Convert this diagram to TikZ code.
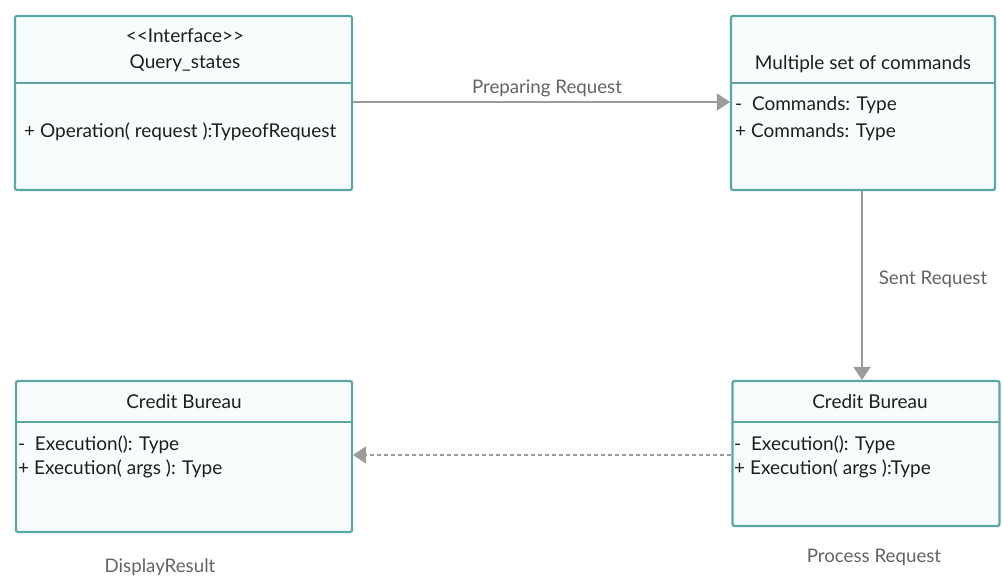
\documentclass[tikz,border=0pt]{standalone}
\usepackage{fontspec}
\setmainfont{Lato}
\usetikzlibrary{arrows.meta}
\definecolor{boxline}{RGB}{92,166,166}
\definecolor{boxfill}{RGB}{247,253,253}
\definecolor{arrowgray}{RGB}{155,155,155}
\definecolor{labelgray}{RGB}{100,100,100}
\definecolor{txt}{RGB}{30,30,30}
\begin{document}
\begin{tikzpicture}[x=1pt,y=-1pt,
  classbox/.style={draw=boxline, fill=boxfill, line width=2.2pt, rounded corners=2pt, inner sep=0pt},
  divider/.style={draw=boxline, line width=2pt},
  title/.style={font=\fontsize{19}{22}\selectfont, text=txt, inner sep=0pt, anchor=center},
  member/.style={font=\fontsize{19}{22}\selectfont, text=txt, inner sep=0pt, anchor=west},
  lbl/.style={font=\fontsize{18.7}{22}\selectfont, text=labelgray, inner sep=0pt, anchor=center},
  conn/.style={draw=arrowgray, line width=2pt, -{Triangle[length=13pt,width=17pt]}},
  dconn/.style={draw=arrowgray, line width=2pt, dash pattern=on 4.5pt off 2.5pt, -{Triangle[length=13pt,width=17pt]}}
]
\useasboundingbox (0,0) rectangle (1002,577);
\fill[white] (0,0) rectangle (1002,577);

% boxes
\node[classbox, minimum width=337pt, minimum height=174pt] (q) at (183.5,103) {};
\node[classbox, minimum width=264pt, minimum height=174pt] (m) at (863,103) {};
\node[classbox, minimum width=336pt, minimum height=151pt] (c1) at (184,456.5) {};
\node[classbox, minimum width=267pt, minimum height=145pt] (c2) at (866,453.5) {};

% dividers
\coordinate (qd1) at (15,83); \coordinate (qd2) at (352,83);
\coordinate (md1) at (731,83); \coordinate (md2) at (995,83);
\coordinate (c1d1) at (16,422); \coordinate (c1d2) at (352,422);
\coordinate (c2d1) at (732.5,422); \coordinate (c2d2) at (999.5,422);
\draw[divider] (qd1) -- (qd2);
\draw[divider] (md1) -- (md2);
\draw[divider] (c1d1) -- (c1d2);
\draw[divider] (c2d1) -- (c2d2);

% texts
\node[title] (qs) at (185,36) {<\kern0pt<Interface>\kern0pt>};
\node[title] (qn) at (185,63) {Query\_states};
\node[member] (qm) at (24,132) {+ Operation( request ):TypeofRequest};

\node[title] (mn) at (863,64) {Multiple set of commands};
\node[member] (mm1) at (735,105) {-\ \ Commands: Type};
\node[member] (mm2) at (735,132) {+ Commands: Type};

\node[title] (c1n) at (184,402) {Credit Bureau};
\node[member] (c1m1) at (18,445) {-\ \ Execution(): Type};
\node[member] (c1m2) at (18,469) {+ Execution( args ): Type};

\node[title] (c2n) at (870,402) {Credit Bureau};
\node[member] (c2m1) at (734,445) {-\ \ Execution(): Type};
\node[member] (c2m2) at (734,469) {+ Execution( args ):Type};

% connectors
\draw[conn] (q.east |- 0,102) -- (m.west |- 0,102);
\draw[conn] (m.south -| 862,0) -- (c2.north -| 862,0);
\draw[dconn] (c2.west |- 0,455) -- (c1.east |- 0,455);

% labels
\node[lbl] (l1) at (547,88) {Preparing Request};
\node[lbl] (l2) at (933,279) {Sent Request};
\node[lbl] (l3) at (160,567) {DisplayResult};
\node[lbl] (l4) at (874,557) {Process Request};
\end{tikzpicture}
\end{document}
